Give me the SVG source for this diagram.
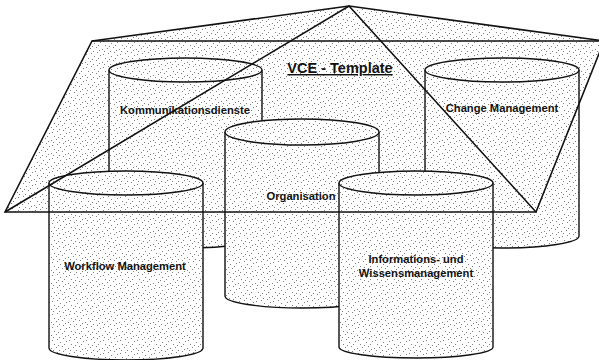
<svg xmlns="http://www.w3.org/2000/svg" width="599" height="360" viewBox="0 0 599 360">
<defs>
<pattern id="stip" width="17" height="13" patternUnits="userSpaceOnUse">
<rect width="17" height="13" fill="#fff"/>
<path fill="#808080" d="M1 2h1v1h-1zM6 1h1v1h-1zM12 0h1v1h-1zM3 6h1v1h-1zM9 4h1v1h-1zM15 3h1v1h-1zM0 10h1v1h-1zM5 9h1v1h-1zM11 8h1v1h-1zM14 11h1v1h-1zM8 12h1v1h-1zM13 6h1v1h-1zM2 12h1v1h-1zM7 7h1v1h-1z"/>
</pattern>
<style>
.body{fill:url(#stip);stroke:#111;stroke-width:1.4}
.edge{fill:none;stroke:#111;stroke-width:1.6;stroke-linejoin:miter}
.lbl{font-family:"Liberation Sans",Arial,sans-serif;font-weight:bold;font-size:11.2px;fill:#111;text-anchor:middle}
.title{font-family:"Liberation Sans",Arial,sans-serif;font-weight:bold;font-size:14.5px;fill:#111;text-anchor:middle;text-decoration:underline}
</style>
</defs>
<rect width="599" height="360" fill="#fff"/>
<g id="plane-fill">
<polygon points="5,212 92,41 349,6 604,41 536,212" fill="url(#stip)"/>
</g>
<g id="kommunikationsdienste">
<path class="body" d="M109,70 V236 A76.5,12 0 0 0 262,236 V70"/>
<ellipse class="body" cx="185.5" cy="70" rx="76.5" ry="12"/>
<text class="lbl" x="185" y="114">Kommunikationsdienste</text>
</g>
<g id="change-management">
<path class="body" d="M425,70 V236 A77,12 0 0 0 579,236 V70"/>
<ellipse class="body" cx="502" cy="70" rx="77" ry="12"/>
<text class="lbl" x="502" y="112">Change Management</text>
</g>
<g id="organisation">
<path class="body" d="M225,132 V296 A77,12 0 0 0 379,296 V132"/>
<ellipse class="body" cx="302" cy="132" rx="77" ry="13"/>
<text class="lbl" x="301" y="200">Organisation</text>
</g>
<g id="workflow-management">
<path class="body" d="M49,183 V348 A77,12 0 0 0 203,348 V183"/>
<ellipse class="body" cx="126" cy="183" rx="77" ry="12"/>
<text class="lbl" x="125" y="270">Workflow Management</text>
</g>
<g id="informations-wissensmanagement">
<path class="body" d="M339,183 V347 A77,11 0 0 0 493,347 V183"/>
<ellipse class="body" cx="416" cy="183" rx="77" ry="12"/>
<text class="lbl" x="416" y="263">Informations- und</text>
<text class="lbl" x="416" y="277">Wissensmanagement</text>
</g>
<g id="vce-template">
<polygon class="edge" points="5,212 92,41 604,41 536,212"/>
<polyline class="edge" points="92,41 349,6 604,41"/>
<polyline class="edge" points="5,212 349,6 536,212"/>
<text class="title" x="340" y="73">VCE - Template</text>
</g>
<g id="connectors"/>
</svg>
